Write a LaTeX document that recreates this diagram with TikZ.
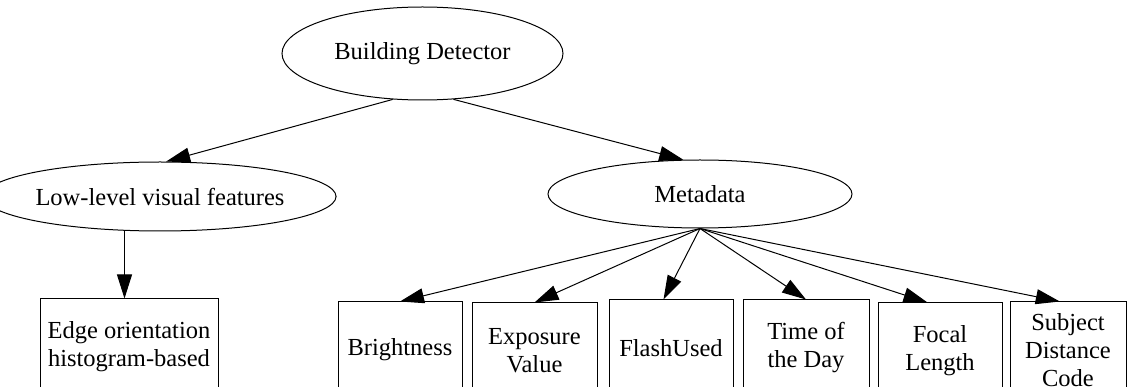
\documentclass[tikz,border=0pt]{standalone}
\usepackage{fontspec}
\setmainfont{Liberation Serif}
\usetikzlibrary{arrows.meta,shapes.geometric,calc}
\begin{document}
\begin{tikzpicture}[x=1pt,y=-1pt,
  every node/.style={font=\fontsize{24.5}{28}\selectfont, line width=1pt},
  oval/.style 2 args={draw, ellipse, inner sep=0pt, minimum width=#1, minimum height=#2},
  leaf/.style={draw, rectangle, align=center, inner sep=0pt, minimum height=96pt, minimum width=#1},
  link/.style={draw, line width=1pt, -{Triangle[length=24pt,width=15pt]}}
]
\useasboundingbox (0,0) rectangle (1128,387);
\clip (0,0) rectangle (1128,387);

% tree nodes
\node[oval={281pt}{93pt}] (bd)   at (422.5,53.5) {Building Detector};
\node[oval={304pt}{69pt}] (low)  at (160,196.5)  {Low-level visual features};
\node[oval={304pt}{68pt}] (meta) at (700,194)    {Metadata};

% leaves
\node[leaf=178pt] (edge)   at (129,347)    {Edge orientation\\histogram-based};
\node[leaf=124pt] (bright) at (400,350)    {Brightness};
\node[leaf=125pt] (expo)   at (534.5,351)  {Exposure\\Value};
\node[leaf=124pt] (flash)  at (671,348)    {FlashUsed};
\node[leaf=126pt] (time)   at (806,348)    {Time of\\the Day};
\node[leaf=124pt] (focal)  at (940,351)    {Focal\\Length};
\node[leaf=116pt] (subj)   at (1068,350)   {Subject\\Distance\\Code};

% connectors
\path[link] (bd.237) -- (low.80);
\path[link] (bd.304) -- (meta.116);
\path[link] (low.224) -- (low.224 |- edge.north);
\path[link] (meta.south) -- (bright.north);
\path[link] (meta.south) -- (expo.north);
\path[link] (meta.south) -- ($(flash.north west)!0.44!(flash.north east)$);
\path[link] (meta.south) -- (time.north);
\path[link] (meta.south) -- ($(focal.north west)!0.40!(focal.north east)$);
\path[link] (meta.south) -- ($(subj.north west)!0.43!(subj.north east)$);
\end{tikzpicture}
\end{document}
